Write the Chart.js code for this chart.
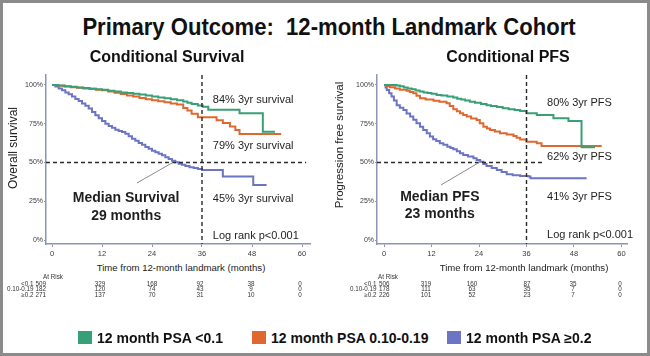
<!DOCTYPE html>
<html><head><meta charset="utf-8">
<script src="https://cdn.jsdelivr.net/npm/chart.js@4.4.1/dist/chart.umd.min.js"></script>
<style>
html,body{margin:0;padding:0;background:#fff;}
#frame{position:relative;width:650px;height:356px;overflow:hidden;background:#fff;font-family:"Liberation Sans",Arial,sans-serif;color:#111;}
#border{position:absolute;left:0;top:0;width:650px;height:356px;box-sizing:border-box;border:3px solid #8b8b8b;z-index:5;}
.t{position:absolute;white-space:pre;transform:translate(-50%,-50%);line-height:1;}
.r{position:absolute;white-space:pre;transform:translate(-100%,-50%);line-height:1;}
.l{position:absolute;white-space:pre;transform:translate(0,-50%);line-height:1;}
canvas{position:absolute;}
.risk{font-size:6.3px;color:#333;}
.sw{position:absolute;width:14px;height:13px;}
</style></head><body>
<div id="frame">
<canvas id="cL" width="322" height="202" style="left:0;top:60px;width:322px;height:202px"></canvas>
<canvas id="cR" width="330" height="202" style="left:320px;top:60px;width:330px;height:202px"></canvas>
<div id="texts"></div>
<div id="border"></div>
</div>
<script>
// ---------- data ----------
const groups = ['12 month PSA <0.1', '12 month PSA 0.10-0.19', '12 month PSA \u22650.2'];
const riskLabels = ['<0.1', '0.10-0.19', '\u22650.2'];
const xTicks = [0, 12, 24, 36, 48, 60];
const yTicks = [0, 25, 50, 75, 100];

// Overall survival [months, %]
const osLow = [[0,100],[1.5,99.6],[3,99.2],[4.5,98.8],[6,98.4],[7.5,98],[9,97.6],[10.5,97.2],[12,96.9],[13.5,96.3],[15,95.8],[16.5,95.2],[18,94.8],[19.5,94.4],[21,93.8],[22.5,93.2],[24,92.6],[25.5,92],[27,91.5],[28.5,90.8],[30,90.2],[31.5,89.3],[32.5,88.6],[33.5,87.8],[35,86.8],[36.2,85.9],[37.5,84],[45,81.8],[50.6,69.8],[53.5,69.8]];
const osMid = [[0,100],[1.5,99.5],[3,99],[4.5,98.6],[6,98.2],[7.5,97.8],[9,97.5],[10.5,97],[12,96.6],[13.5,95.8],[15,95],[16.5,94.2],[18,93.3],[19.5,92.5],[21,91.6],[22.5,90.8],[24,90.2],[25.5,89.5],[27,88.8],[28.5,88],[30,87.4],[31.5,85.2],[32.5,83.5],[33.5,81.5],[35,79.2],[39.5,77.3],[41,75.5],[42.7,73.2],[44,71],[45,68.4],[55,68.4]];
const osHigh = [[0,100],[0.8,99],[1.6,97.8],[2.4,96.6],[3.2,95.2],[4,94],[4.8,92.6],[5.6,91],[6.4,89.6],[7.2,88],[8,86.6],[8.8,84.8],[9.6,82.6],[10.4,80.5],[11.2,78.5],[12,76.8],[12.8,75],[13.6,73.6],[14.4,72.4],[15.2,71.2],[16,70.4],[16.8,69.6],[17.6,68.6],[18.4,67],[19.2,65.4],[20,64],[20.8,62.6],[21.6,61.4],[22.4,60],[23.2,58.8],[24,57.6],[24.8,56.6],[25.6,55.6],[26.4,54.6],[27.2,53.4],[28,52.2],[28.8,51.2],[29.6,50.2],[30.4,49.2],[31.2,48.6],[32,47.8],[33,47],[34,46.4],[35,45.8],[36,45.2],[41,41],[48.3,35.5],[51.5,35.5]];

// Progression free survival [months, %]
const pfsLow = [[0,100],[3.2,99.6],[4,99.2],[5,98.4],[6,97.8],[7,97.2],[8,96.4],[9,95.8],[10,95.2],[11,94.8],[12,94.3],[13.3,93.6],[14.5,93.2],[16,92.6],[17.5,92],[18.5,91.2],[19.5,90.6],[20.5,90],[21.7,89.2],[23,88.6],[24.5,87.8],[25.9,87],[27,86.4],[28.5,85.8],[30,85],[31.5,84.4],[33,83.8],[34.4,83.2],[36,81.7],[38.6,80.6],[42.8,78.5],[46.6,76.8],[49.9,59.8],[53.3,59.8]];
const pfsMid = [[0,100],[0.7,99.4],[1.5,98.6],[2.8,97.8],[4,97],[5.7,96.3],[6.5,95.5],[7.4,94.6],[8.2,93],[9.1,91.4],[10.5,90.6],[12.5,89.9],[14,89.2],[15.8,88.2],[16.6,86.4],[17.5,84.3],[18.4,83],[19.2,81.7],[20,80.6],[20.9,79.6],[22,78.4],[23.4,77.4],[24.2,75.4],[25.1,73.1],[26,72],[26.8,71],[28,70],[29.3,68.8],[31,68],[32.7,67.1],[33.5,66],[34.4,64.9],[36,63.4],[38.6,62.4],[39.8,60.6],[55,60.6]];
const pfsHigh = [[0,100],[0.4,98.4],[0.7,96.8],[1.3,94.6],[1.9,92.5],[2.5,90],[3.2,87],[4,85.4],[4.9,83.9],[5.7,81.6],[6.6,79.6],[7.4,77.6],[8.2,75.4],[9.1,73.1],[9.9,71],[10.8,68.8],[11.6,66.7],[12.4,65],[13.2,63.8],[14.1,62.4],[15,61.4],[16,60.2],[16.8,59.4],[17.5,58.5],[18.4,57.2],[19.2,55.9],[20,54.8],[21.2,53.8],[22.6,52.7],[23.4,51.6],[24.3,50.5],[25.1,49],[25.9,47.7],[27.2,46.4],[28.5,45.2],[29.7,43.8],[31,42.4],[32.5,41.8],[34.4,41.3],[36.5,40.9],[37,39.8],[51.2,39.8]];

// Numbers at risk at xTicks
const osRiskLow = [509, 329, 168, 92, 38, 0];
const osRiskMid = [182, 120, 74, 43, 9, 0];
const osRiskHigh = [271, 137, 70, 31, 10, 0];
const pfsRiskLow = [506, 319, 160, 87, 35, 0];
const pfsRiskMid = [178, 111, 63, 35, 7, 0];
const pfsRiskHigh = [226, 101, 52, 23, 7, 0];

// ---------- style ----------
const COLORS = ['#38a077', '#e0682f', '#6c74c4'];
const AXIS = '#8a96b2';
const FONT = '"Liberation Sans", Arial, sans-serif';

const annPlugin = {
  id: 'ann',
  afterDatasetsDraw(chart, args, o) {
    const {ctx, chartArea: a, scales: {x, y}} = chart;
    ctx.save();
    ctx.strokeStyle = '#2a2a2a'; ctx.lineWidth = 1.4; ctx.setLineDash([4, 3]);
    const y50 = y.getPixelForValue(50);
    ctx.beginPath(); ctx.moveTo(a.left, y50); ctx.lineTo(x.getPixelForValue(o.hEnd), y50); ctx.stroke();
    const x36 = x.getPixelForValue(36);
    ctx.beginPath(); ctx.moveTo(x36, a.top); ctx.lineTo(x36, a.bottom); ctx.stroke();
    ctx.setLineDash([]);
    ctx.strokeStyle = '#8a8a8a'; ctx.lineWidth = 1;
    ctx.beginPath();
    ctx.moveTo(x.getPixelForValue(o.ptr[0][0]), y.getPixelForValue(o.ptr[0][1]));
    ctx.lineTo(x.getPixelForValue(o.ptr[1][0]), y.getPixelForValue(o.ptr[1][1]));
    ctx.stroke();
    ctx.fillStyle = '#1e1e1e'; ctx.textBaseline = 'middle';
    o.texts.forEach(t => {
      ctx.font = t.font; ctx.textAlign = t.align;
      ctx.fillText(t.text, x.getPixelForValue(t.x), y.getPixelForValue(t.y));
    });
    ctx.restore();
  }
};

function makeChart(id, series, xr, yr, yW, xH, pad, ann) {
  return new Chart(document.getElementById(id), {
    type: 'line',
    data: {
      datasets: series.map((s, i) => ({
        label: groups[i],
        data: s.map(p => ({x: p[0], y: p[1]})),
        borderColor: COLORS[i], backgroundColor: COLORS[i],
        borderWidth: 2, pointRadius: 0, stepped: true, fill: false
      }))
    },
    options: {
      responsive: false, animation: false, devicePixelRatio: 1,
      layout: {padding: pad},
      plugins: {legend: {display: false}, tooltip: {enabled: false}, ann: ann},
      scales: {
        x: {
          type: 'linear', min: xr[0], max: xr[1],
          afterBuildTicks: s => { s.ticks = xTicks.map(v => ({value: v})); },
          afterFit: s => { s.height = xH; },
          grid: {display: true, drawOnChartArea: false, drawTicks: true, tickLength: 3, color: AXIS},
          border: {display: true, color: AXIS, width: 1.5},
          ticks: {autoSkip: false, maxRotation: 0, padding: 2, color: '#3a3a3a', font: {family: FONT, size: 7.5}}
        },
        y: {
          type: 'linear', min: yr[0], max: yr[1],
          afterBuildTicks: s => { s.ticks = yTicks.map(v => ({value: v})); },
          afterFit: s => { s.width = yW; },
          grid: {display: true, drawOnChartArea: false, drawTicks: true, tickLength: 2, color: AXIS},
          border: {display: true, color: AXIS, width: 1.5},
          ticks: {padding: 1, color: '#3a3a3a', font: {family: FONT, size: 7}, callback: v => v + '%'}
        }
      }
    },
    plugins: [annPlugin]
  });
}

const F11 = '11px ' + FONT, FB = 'bold 14px ' + FONT;
makeChart('cL', [osLow, osMid, osHigh], [-1.44, 61.92], [-2.58, 106.45], 46, 18,
  {top: 15, left: 0, right: 12, bottom: 0},
  {hEnd: 61, ptr: [[20.4, 36.8], [29, 50]], texts: [
    {text: '84% 3yr survival', x: 38.6, y: 90.3, font: F11, align: 'left'},
    {text: '79% 3yr survival', x: 38.6, y: 60.6, font: F11, align: 'left'},
    {text: '45% 3yr survival', x: 38.6, y: 26.5, font: F11, align: 'left'},
    {text: 'Log rank p<0.001', x: 38.6, y: 2.6, font: F11, align: 'left'},
    {text: 'Median Survival', x: 17.8, y: 27.1, font: FB, align: 'center'},
    {text: '29 months', x: 17.8, y: 15.5, font: FB, align: 'center'}
  ]});
makeChart('cR', [pfsLow, pfsMid, pfsHigh], [-1.77, 61.39], [-2.58, 106.45], 57, 18,
  {top: 15, left: 0, right: 23, bottom: 0},
  {hEnd: 40, ptr: [[14.4, 35.5], [24, 50]], texts: [
    {text: '80% 3yr PFS', x: 41.2, y: 88.4, font: F11, align: 'left'},
    {text: '62% 3yr PFS', x: 41.2, y: 53.5, font: F11, align: 'left'},
    {text: '41% 3yr PFS', x: 41.2, y: 27.7, font: F11, align: 'left'},
    {text: 'Log rank p<0.001', x: 41.2, y: 3.2, font: F11, align: 'left'},
    {text: 'Median PFS', x: 14.1, y: 27.7, font: FB, align: 'center'},
    {text: '23 months', x: 14.1, y: 16.8, font: FB, align: 'center'}
  ]});

// ---------- HTML texts ----------
const T = document.getElementById('texts');
function add(cls, x, y, txt, style) {
  const d = document.createElement('div');
  d.className = cls; d.style.left = x + 'px'; d.style.top = y + 'px';
  if (style) d.style.cssText += style;
  d.textContent = txt; T.appendChild(d); return d;
}
add('t', 329, 27, 'Primary Outcome:  12-month Landmark Cohort', 'font-size:24px;font-weight:bold;transform:translate(-50%,-50%) scaleX(0.92);');
add('t', 167, 57, 'Conditional Survival', 'font-size:16px;font-weight:bold;');
add('t', 508, 57, 'Conditional PFS', 'font-size:16px;font-weight:bold;');
add('t', 13, 148, 'Overall survival', 'font-size:12px;color:#222;transform:translate(-50%,-50%) rotate(-90deg);');
add('t', 340, 145, 'Progression free survival', 'font-size:11.5px;color:#222;transform:translate(-50%,-50%) rotate(-90deg);');
add('t', 181, 268, 'Time from 12-month landmark (months)', 'font-size:9.6px;color:#222;');
add('t', 524, 268, 'Time from 12-month landmark (months)', 'font-size:9.6px;color:#222;');

// at-risk tables
const rowY = [283.5, 289.2, 294.9];
function riskTable(labelRight, atRiskX, col0Left, cols, rows) {
  add('l risk', atRiskX, 277, 'At Risk');
  rows.forEach((r, i) => {
    add('r risk', labelRight, rowY[i], riskLabels[i]);
    r.forEach((v, j) => {
      if (j === 0) add('l risk', col0Left, rowY[i], String(v));
      else add('t risk', cols[j], rowY[i], String(v));
    });
  });
}
riskTable(33.5, 43, 35.5, [39, 100, 152, 200, 251, 300], [osRiskLow, osRiskMid, osRiskHigh]);
riskTable(376.5, 378, 379, [383.5, 426, 472, 527, 573, 620], [pfsRiskLow, pfsRiskMid, pfsRiskHigh]);

// legend
const swX = [78, 252, 447];
groups.forEach((g, i) => {
  const s = document.createElement('div');
  s.className = 'sw'; s.style.left = swX[i] + 'px'; s.style.top = '331px'; s.style.background = COLORS[i];
  T.appendChild(s);
  add('l', swX[i] + 19, 338, g, 'font-size:14px;font-weight:bold;color:#111;');
});
</script>
</body></html>
